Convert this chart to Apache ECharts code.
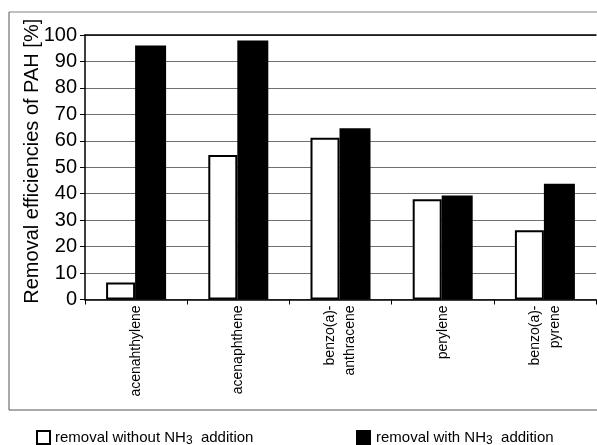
<!DOCTYPE html>
<html>
<head>
<meta charset="utf-8">
<script src="https://cdn.jsdelivr.net/npm/echarts@6/dist/echarts.min.js"></script>
<style>
  html, body { margin: 0; padding: 0; background: #fff; }
  #chart { width: 597px; height: 445px; }
</style>
</head>
<body>
<div id="chart"></div>
<script>
const categories = ['acenahthylene', 'acenaphthene', 'benzo(a)-\nanthracene', 'perylene', 'benzo(a)-\npyrene'];
const withoutNH3 = [6.4, 54.6, 61.2, 37.9, 26.2];
const withNH3 = [96.0, 97.9, 64.7, 39.3, 43.8];
const yTicks = [0, 10, 20, 30, 40, 50, 60, 70, 80, 90, 100];

const font = 'Liberation Sans, Arial, sans-serif';
const chart = echarts.init(document.getElementById('chart'));

// legend text with subscript 3
const legendRich = {
  a: { fontSize: 15, color: '#000', fontFamily: font },
  s: { fontSize: 12, color: '#000', fontFamily: font, padding: [7, 0, 0, 0] }
};

chart.setOption({
  animation: false,
  textStyle: { fontFamily: font },
  // outer frame of the figure
  graphic: [
    { type: 'line', shape: { x1: 9, y1: 12, x2: 597, y2: 12 }, style: { stroke: '#aaa', lineWidth: 1.5 } },
    { type: 'line', shape: { x1: 9, y1: 12, x2: 9, y2: 410 }, style: { stroke: '#555', lineWidth: 1 } },
    { type: 'line', shape: { x1: 9, y1: 410, x2: 597, y2: 410 }, style: { stroke: '#555', lineWidth: 1 } }
  ],
  legend: [
    {
      left: 31, top: 425,
      itemWidth: 13, itemHeight: 13, itemGap: 0,
      data: [{ name: 'without', icon: 'rect' }],
      formatter: () => '{a|removal without NH}{s|3}{a|  addition}',
      textStyle: { rich: legendRich }
    },
    {
      left: 351, top: 425,
      itemWidth: 15, itemHeight: 15,
      data: [{ name: 'with', icon: 'rect' }],
      formatter: () => '{a|removal with NH}{s|3}{a|  addition}',
      textStyle: { rich: legendRich }
    }
  ],
  grid: { left: 85, top: 35, right: 1, bottom: 145.5, containLabel: false },
  xAxis: [
    {
      type: 'category',
      data: categories,
      axisLine: { lineStyle: { color: '#000', width: 1.5 } },
      axisTick: { show: true, length: 5, lineStyle: { color: '#000' } },
      axisLabel: { rotate: 90, margin: 6, fontSize: 14, color: '#000', lineHeight: 20, interval: 0 }
    },
    {
      // top border line of the plot
      type: 'category',
      position: 'top',
      data: categories,
      axisLine: { show: true, lineStyle: { color: '#000', width: 1.5 } },
      axisTick: { show: false },
      axisLabel: { show: false }
    }
  ],
  yAxis: {
    type: 'value',
    min: yTicks[0],
    max: yTicks[yTicks.length - 1],
    interval: 10,
    name: 'Removal efficiencies of PAH [%]',
    nameLocation: 'middle',
    nameGap: 43,
    nameMoveOverlap: false,
    nameTextStyle: { fontSize: 20, color: '#000', padding: [0, 0, 0, 12] },
    axisLine: { show: true, lineStyle: { color: '#000', width: 1.5 } },
    axisTick: { show: true, length: 5, lineStyle: { color: '#000' } },
    axisLabel: { fontSize: 20, color: '#000', margin: 8 },
    splitLine: { show: true, lineStyle: { color: '#707070', width: 1 } }
  },
  series: [
    {
      name: 'without',
      type: 'bar',
      data: withoutNH3,
      barWidth: 29,
      barGap: '0%',
      itemStyle: { color: '#fff', borderColor: '#000', borderWidth: 2 }
    },
    {
      name: 'with',
      type: 'bar',
      data: withNH3,
      barWidth: 31,
      barGap: '0%',
      itemStyle: { color: '#000' }
    }
  ]
});
</script>
</body>
</html>
